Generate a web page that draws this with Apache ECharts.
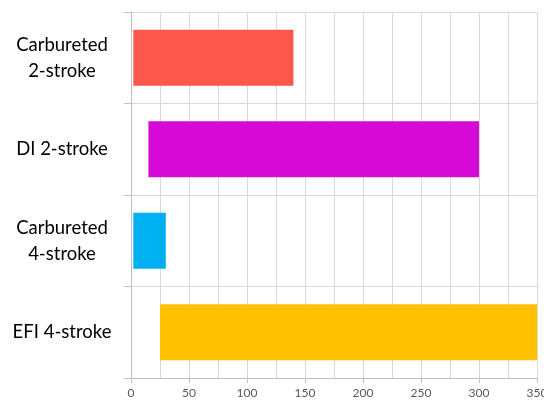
<!DOCTYPE html>
<html>
<head>
<meta charset="utf-8">
<script src="https://cdn.jsdelivr.net/npm/echarts@6/dist/echarts.min.js"></script>
<style>
  html, body { margin: 0; padding: 0; background: #fff; }
  #chart { width: 544px; height: 401px; }
</style>
</head>
<body>
<div id="chart"></div>
<script>
// Engine types, top to bottom
const categories = ['Carbureted\n2-stroke', 'DI 2-stroke', 'Carbureted\n4-stroke', 'EFI 4-stroke'];
// Range of each bar: where it starts and where it ends
const rangeStart = [2, 15, 2, 25];
const rangeEnd = [140, 300, 30, 350];
const barColors = ['#FD564A', '#D60AD6', '#00B0F0', '#FFC000'];

const chart = echarts.init(document.getElementById('chart'), null, { renderer: 'canvas' });

const gridColor = '#d9d9d9';

chart.setOption({
  animation: false,
  grid: { left: 131, right: 7, top: 12, bottom: 23, containLabel: false, outerBoundsMode: 'none' },
  xAxis: {
    type: 'value',
    min: 0,
    max: 350,
    interval: 50,
    axisLine: { show: true, lineStyle: { color: '#bfbfbf' } },
    axisTick: { show: true, length: 5, lineStyle: { color: '#bfbfbf' } },
    axisLabel: { color: '#595959', fontFamily: 'Lato, "Open Sans", sans-serif', fontSize: 12, margin: 9, hideOverlap: false },
    splitLine: { show: true, lineStyle: { color: gridColor } },
    minorTick: { show: false, splitNumber: 2 },
    minorSplitLine: { show: true, lineStyle: { color: gridColor } }
  },
  yAxis: {
    type: 'category',
    inverse: true,
    data: categories,
    axisLine: { show: true, lineStyle: { color: '#bfbfbf' } },
    axisTick: { show: true, length: 7, lineStyle: { color: '#bfbfbf' } },
    axisLabel: {
      color: '#000',
      fontFamily: 'Lato, "Open Sans", sans-serif',
      fontSize: 18.5,
      lineHeight: 26,
      align: 'center',
      margin: 69
    },
    splitLine: { show: true, lineStyle: { color: gridColor } }
  },
  series: [
    {
      name: 'offset',
      type: 'bar',
      stack: 'range',
      barWidth: '61%',
      silent: true,
      itemStyle: { color: 'transparent' },
      data: rangeStart
    },
    {
      name: 'range',
      type: 'bar',
      stack: 'range',
      barWidth: '61%',
      data: rangeEnd.map((v, i) => ({
        value: v - rangeStart[i],
        itemStyle: { color: barColors[i] }
      }))
    }
  ]
});
</script>
</body>
</html>
